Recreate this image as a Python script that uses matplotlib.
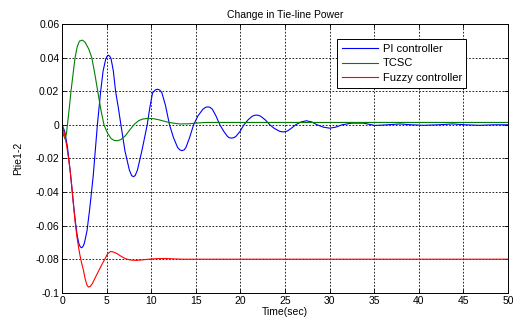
#!/usr/bin/env python3
"""
Change in tie-line power for three controllers (PI, TCSC, fuzzy).
"""

import matplotlib
matplotlib.use("Agg")
import matplotlib.pyplot as plt

plt.rcParams["font.family"] = ["Liberation Sans", "DejaVu Sans"]

# PI controller response
t_pi = [0, 0.3, 0.6, 0.9, 1.27, 1.5, 1.7, 1.9, 2.05, 2.2, 2.35, 2.5, 2.8,
        3.1, 3.5, 3.96,
        4.33, 4.6, 4.9, 5.05, 5.2, 5.35, 5.5, 5.75, 6.0, 6.3, 6.6,
        7.05, 7.55, 7.8, 8.0, 8.2, 8.45, 8.95, 9.55,
        9.85, 10.15, 10.45, 10.7, 10.95, 11.2, 11.6, 12.05,
        12.5, 12.95, 13.2, 13.45, 13.7, 13.9, 14.3, 14.75,
        15.25, 15.8, 16.1, 16.35, 16.6, 16.85, 17.25, 17.7,
        18.15, 18.55, 18.75, 19.0, 19.25, 19.5, 19.95, 20.4,
        20.85, 21.3, 21.55, 21.8, 22.05, 22.3, 22.8, 23.3,
        23.8, 24.3, 24.55, 24.8, 25.05, 25.3, 25.7, 26.2,
        26.8, 27.4, 28.0, 28.6, 29.3, 30.0, 30.7, 31.4,
        32.5, 33.8, 35.1, 36.5, 37.9, 39.2, 40.5, 42.2, 43.8, 45.3, 46.8,
        48.4, 50]
p_pi = [0, -0.004, -0.013, -0.027, -0.047, -0.058, -0.066, -0.071, -0.0727,
        -0.0732, -0.0724, -0.0705, -0.063, -0.050, -0.030, 0.0,
        0.020, 0.032, 0.0392, 0.0408, 0.0414, 0.0408, 0.0392, 0.032, 0.020,
        0.0105, 0.0,
        -0.0155, -0.027, -0.0302, -0.0309, -0.0302, -0.027, -0.0155, 0.0,
        0.0105, 0.019, 0.0207, 0.0212, 0.0207, 0.019, 0.0115, 0.0,
        -0.0077, -0.0134, -0.0149, -0.0154, -0.0149, -0.0134, -0.0077, 0.0,
        0.0054, 0.0093, 0.0104, 0.0107, 0.0104, 0.0093, 0.0054, 0.0,
        -0.004, -0.0069, -0.0077, -0.0079, -0.0077, -0.0069, -0.004, 0.0,
        0.0029, 0.005, 0.0056, 0.0058, 0.0056, 0.005, 0.0029, 0.0,
        -0.0021, -0.0036, -0.0041, -0.0042, -0.0041, -0.0036, -0.0021, 0.0,
        0.0017, 0.0024, 0.0017, 0.0, -0.0014, -0.002, -0.0014, 0.0,
        0.001, 0.001, -0.0004, 0.0, 0.0005, 0.0, -0.0003, 0.0, 0.0005, 0.0,
        -0.0003, 0.0, 0.0]

# TCSC response
t_tcsc = [0, 0.15, 0.34, 0.5, 0.6, 0.8, 1.0, 1.25, 1.46, 1.7, 1.95, 2.28,
          2.6, 3.0, 3.33, 3.65, 4.0, 4.35, 4.7, 5.1, 5.5, 5.85, 6.2, 6.6,
          7.1, 7.6, 8.1, 8.6, 9.1, 9.7, 10.3, 11.0, 11.6, 12.2, 13.2, 14.2,
          15.2, 16.2, 50]
p_tcsc = [0, -0.006, -0.0085, -0.005, 0.0, 0.0095, 0.020, 0.031, 0.040,
          0.0465, 0.0498, 0.0504, 0.049, 0.045, 0.040, 0.031, 0.020, 0.009,
          0.0, -0.005, -0.0082, -0.0093, -0.0095, -0.0088, -0.0065, -0.003,
          0.0003, 0.0025, 0.0035, 0.0038, 0.0036, 0.0028, 0.0019, 0.0012,
          0.0005, 0.0006, 0.0011, 0.0014, 0.0014]

# Fuzzy controller response
t_fuzzy = [0, 0.25, 0.5, 0.7, 0.9, 1.1, 1.27, 1.45, 1.65, 1.85, 2.0, 2.2,
           2.4, 2.6, 2.8, 2.95, 3.15, 3.4, 3.7, 4.1, 4.5, 4.82, 5.1, 5.45,
           5.8, 6.2, 6.6, 7.1, 7.7, 8.37, 9.0, 9.7, 10.5, 11.5, 12.5, 13.5, 50]
p_fuzzy = [0, -0.005, -0.012, -0.019, -0.027, -0.037, -0.047, -0.057, -0.066,
           -0.073, -0.0775, -0.0825, -0.0866, -0.092, -0.0955, -0.0966,
           -0.0962, -0.0945, -0.0912, -0.087, -0.0828, -0.0797, -0.0768,
           -0.0754, -0.0758, -0.0768, -0.0782, -0.0797, -0.0805, -0.0807,
           -0.0804, -0.080, -0.0797, -0.0796, -0.0798, -0.080, -0.080]

x_ticks = [0, 5, 10, 15, 20, 25, 30, 35, 40, 45, 50]
y_ticks = [-0.1, -0.08, -0.06, -0.04, -0.02, 0, 0.02, 0.04, 0.06]
y_tick_labels = ["-0.1", "-0.08", "-0.06", "-0.04", "-0.02", "0", "0.02",
                 "0.04", "0.06"]


def main():
    fig = plt.figure(figsize=(5.13, 3.2), dpi=100)
    ax = fig.add_axes([0.121, 0.085, 0.869, 0.84])

    ax.plot(t_pi, p_pi, color="#0000ff", lw=0.8, label="PI controller")
    ax.plot(t_tcsc, p_tcsc, color="#008000", lw=0.8, label="TCSC")
    ax.plot(t_fuzzy, p_fuzzy, color="#ff0000", lw=0.8, label="Fuzzy controller")

    ax.set_xlim(0, 50)
    ax.set_ylim(-0.1, 0.06)
    ax.set_xticks(x_ticks)
    ax.set_yticks(y_ticks)
    ax.set_yticklabels(y_tick_labels)
    ax.tick_params(direction="in", top=True, right=True, labelsize=7.5,
                   length=3, width=0.6, pad=2)
    ax.grid(True, color="black", linestyle=(0, (2, 2)), linewidth=0.6)
    for s in ax.spines.values():
        s.set_linewidth(0.7)

    ax.set_title("Change in Tie-line Power", fontsize=7.5, pad=4)
    ax.set_xlabel("Time(sec)", fontsize=7.5, labelpad=1)
    ax.set_ylabel("Ptie1-2", fontsize=7.5, labelpad=9)

    leg = ax.legend(loc="upper right", bbox_to_anchor=(0.907, 0.943),
                    fontsize=8, handlelength=3.3, borderaxespad=0,
                    fancybox=False, framealpha=1, edgecolor="black",
                    labelspacing=0.42, borderpad=0.4, handletextpad=0.4)
    leg.get_frame().set_linewidth(0.7)

    fig.savefig("out.png", dpi=100)


if __name__ == "__main__":
    main()
